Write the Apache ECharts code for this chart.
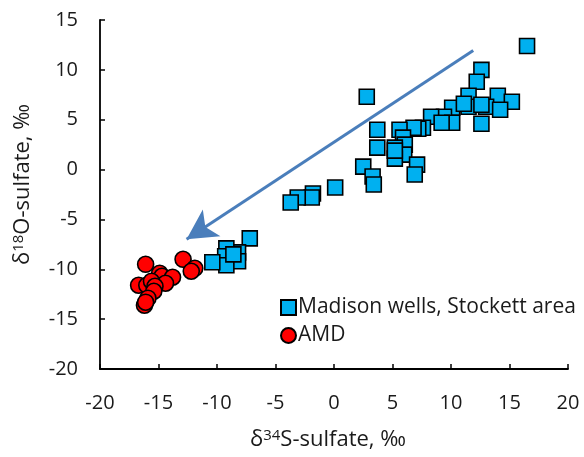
<!DOCTYPE html>
<html>
<head>
<meta charset="utf-8">
<script src="https://cdn.jsdelivr.net/npm/echarts@6/dist/echarts.min.js"></script>
<style>html,body{margin:0;padding:0;background:#fff;}#c{width:584px;height:457px;}</style>
</head>
<body>
<div id="c"></div>
<script>
// Madison wells, Stockett area: [δ34S, δ18O]
const madisonX = [16.5, 12.6, 12.2, 2.8, 11.5, 14.0, 15.2, 13.0, 14.2, 11.5, 12.6, 10.1, 11.1, 12.6, 9.4, 8.3, 10.1, 9.2, 7.6, 7.2, 6.8, 5.6, 3.7, 3.7, 5.9, 6.05, 5.2, 6.0, 5.2, 5.2, 7.1, 6.9, 2.5, 3.3, 3.4, 0.1, -1.8, -1.9, -3.1, -3.7, -7.2, -8.2, -8.2, -9.2, -9.3, -9.2, -10.4, -8.6];
const madisonY = [12.4, 10.0, 8.8, 7.3, 7.4, 7.4, 6.8, 6.3, 6.0, 6.3, 6.5, 6.2, 6.6, 4.6, 5.3, 5.3, 4.7, 4.7, 4.2, 4.1, 4.2, 4.0, 4.0, 2.2, 3.2, 2.5, 2.2, 1.5, 1.1, 1.9, 0.5, -0.5, 0.3, -0.7, -1.5, -1.8, -2.4, -2.8, -2.8, -3.3, -6.9, -8.3, -9.2, -7.9, -8.7, -9.6, -9.3, -8.5];
// AMD
const amdX = [-16.1, -12.9, -11.9, -12.2, -14.9, -14.7, -13.8, -14.4, -16.7, -16.0, -15.6, -15.3, -15.4, -15.9, -16.2, -16.1];
const amdY = [-9.5, -9.0, -9.9, -10.2, -10.4, -10.7, -10.8, -11.4, -11.6, -11.6, -11.2, -11.7, -12.2, -12.9, -13.6, -13.3];
// Arrow from/to
const arrowStart = [11.9, 11.95];
const arrowEnd = [-12.6, -7.0];
const xTicks = {min: -20, max: 20, step: 5};
const yTicks = {min: -20, max: 15, step: 5};
const seriesNames = ['Madison wells, Stockett area', 'AMD'];

const zip = (a, b) => a.map((v, i) => [v, b[i]]);
const font = 'Open Sans';
const txt = '#1a1a1a';
const chart = echarts.init(document.getElementById('c'), null, {renderer: 'canvas'});
const axisCommon = {
  axisLine: {show: true, onZero: false, lineStyle: {color: '#000', width: 1.8}},
  axisTick: {show: true, inside: true, length: 5, lineStyle: {color: '#000', width: 1.5}},
  splitLine: {show: false},
  axisLabel: {color: txt, fontSize: 20, fontFamily: font},
  nameTextStyle: {color: txt, fontFamily: font}
};
const rich = {
  a: {fontSize: 22, fontFamily: font, color: txt},
  s: {fontSize: 15, fontFamily: font, color: txt, verticalAlign: 'top', padding: [0, 0, 8, 0]}
};
chart.setOption({
  animation: false,
  backgroundColor: '#fff',
  grid: {left: 100, right: 16, top: 20, bottom: 88, containLabel: false},
  xAxis: Object.assign({}, axisCommon, {
    type: 'value', min: xTicks.min, max: xTicks.max, interval: xTicks.step,
    axisLabel: Object.assign({}, axisCommon.axisLabel, {margin: 24}),
    name: '{a|δ}{s|34}{a|S-sulfate, ‰}', nameLocation: 'middle', nameGap: 59,
    nameTextStyle: {padding: [0, 12, 0, 0], rich: rich}
  }),
  yAxis: Object.assign({}, axisCommon, {
    type: 'value', min: yTicks.min, max: yTicks.max, interval: yTicks.step,
    axisLabel: Object.assign({}, axisCommon.axisLabel, {margin: 22}),
    name: '{a|δ}{s|18}{a|O-sulfate, ‰}', nameLocation: 'middle', nameGap: 66, nameRotate: 90,
    nameTextStyle: {padding: [0, 0, 0, 20], rich: rich}
  }),
  legend: {
    orient: 'vertical', left: 275, top: 292, itemGap: 7, itemWidth: 15, itemHeight: 15,
    textStyle: {fontSize: 21, fontFamily: font, color: txt, padding: [0, 0, 0, -3]},
    data: [{name: seriesNames[0], icon: 'rect'}, {name: seriesNames[1], icon: 'circle'}]
  },
  series: [
    {
      name: seriesNames[0], type: 'scatter', symbol: 'rect', symbolSize: 15,
      itemStyle: {color: '#00b0f0', borderColor: '#000', borderWidth: 1.6, opacity: 1},
      data: zip(madisonX, madisonY),
      markLine: {
        silent: true, symbol: ['none', 'arrow'], symbolSize: [24, 30],
        label: {show: false},
        lineStyle: {color: '#4a7ebb', width: 3, type: 'solid'},
        emphasis: {disabled: true},
        data: [[{coord: arrowStart}, {coord: arrowEnd}]]
      }
    },
    {
      name: seriesNames[1], type: 'scatter', symbol: 'circle', symbolSize: 16,
      itemStyle: {color: '#ff0000', borderColor: '#000', borderWidth: 1.6, opacity: 1},
      data: zip(amdX, amdY)
    }
  ]
});
</script>
</body>
</html>
